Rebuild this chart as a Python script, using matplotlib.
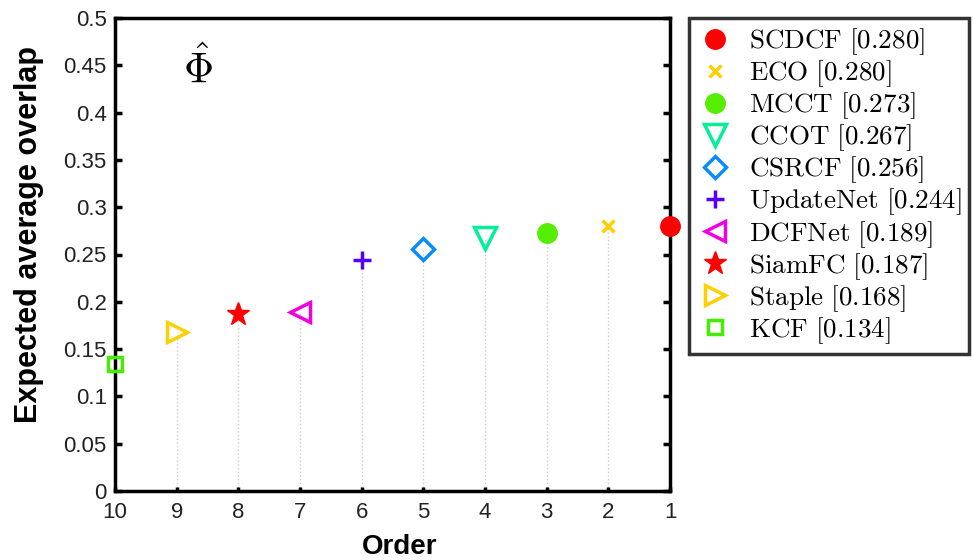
import matplotlib
matplotlib.use("Agg")
import matplotlib.pyplot as plt
from matplotlib.lines import Line2D

plt.rcParams['font.family'] = ['Liberation Sans', 'DejaVu Sans']
plt.rcParams['mathtext.fontset'] = 'cm'

names = ['SCDCF', 'ECO', 'MCCT', 'CCOT', 'CSRCF', 'UpdateNet', 'DCFNet', 'SiamFC', 'Staple', 'KCF']
orders = [1, 2, 3, 4, 5, 6, 7, 8, 9, 10]
eao = [0.280, 0.280, 0.273, 0.267, 0.256, 0.244, 0.189, 0.187, 0.168, 0.134]
colors = ['#FF0000', '#FFD000', '#55EE00', '#00F098', '#0A8CFF', '#5500FF', '#F000E0', '#FF0000', '#FFD000', '#44EE00']
markers = ['o', 'x', 'o', 'v', 'D', '+', '<', '*', '>', 's']
filled = [True, False, True, False, False, False, False, True, False, False]
msizes = [14, 9, 14, 16, 11, 13, 15, 17, 15, 10]

x_ticks = [10, 9, 8, 7, 6, 5, 4, 3, 2, 1]
y_ticks = [0, 0.05, 0.1, 0.15, 0.2, 0.25, 0.3, 0.35, 0.4, 0.45, 0.5]
y_ticklabels = ['0', '0.05', '0.1', '0.15', '0.2', '0.25', '0.3', '0.35', '0.4', '0.45', '0.5']

fig = plt.figure(figsize=(9.74, 5.6), dpi=100)
ax = fig.add_axes([115/974, 1-491/560, (670-115)/974, (491-18)/560])

handles = []
for n, o, v, c, m, f, ms in zip(names, orders, eao, colors, markers, filled, msizes):
    ax.plot([o, o], [0, v], linestyle=':', color='#cccccc', linewidth=1.0, zorder=1)
    mew = 2.5
    if m in ('x', '+'):
        kw = dict(color=c, markeredgewidth=mew)
    elif f:
        kw = dict(markerfacecolor=c, markeredgecolor=c, markeredgewidth=1.0)
    else:
        kw = dict(markerfacecolor='none', markeredgecolor=c, markeredgewidth=mew)
    ax.plot([o], [v], marker=m, markersize=ms, linestyle='none', zorder=3, clip_on=False, **kw)
    h = Line2D([], [], marker=m, markersize=ms, linestyle='none', **kw)
    handles.append(h)

labels = [r'$\mathrm{%s\ [%.3f]}$' % (n, v) for n, v in zip(names, eao)]

ax.set_xlim(10, 1)
ax.set_ylim(0, 0.5)
ax.set_xticks(x_ticks)
ax.set_xticklabels([str(t) for t in x_ticks])
ax.set_yticks(y_ticks)
ax.set_yticklabels(y_ticklabels)
ax.tick_params(axis='both', direction='in', labelsize=16, width=2.5, length=5,
               top=False, right=True, pad=6, labelcolor='#222222')
ax.tick_params(axis='x', length=3, pad=8)
for s in ax.spines.values():
    s.set_linewidth(2.5)

ax.set_xlabel('Order', fontsize=20, fontweight='bold')
ax.xaxis.set_label_coords(0.512, -0.09)
ax.set_ylabel('Expected average overlap', fontsize=22, fontweight='bold')
ax.yaxis.set_label_coords(-0.128, 0.543)

ax.text(8.65, 0.445, r'$\hat{\Phi}$', fontsize=30, ha='center', va='center')

leg = fig.legend(handles, labels, loc='upper left', bbox_to_anchor=(689/974, 1-18/560),
                 fontsize=19.5, frameon=True, fancybox=False, edgecolor='black',
                 handlelength=1.3, handletextpad=0.6, labelspacing=0.05, borderpad=0.3,
                 borderaxespad=0)
leg.get_frame().set_linewidth(2.5)

fig.savefig('out.png', dpi=100)
